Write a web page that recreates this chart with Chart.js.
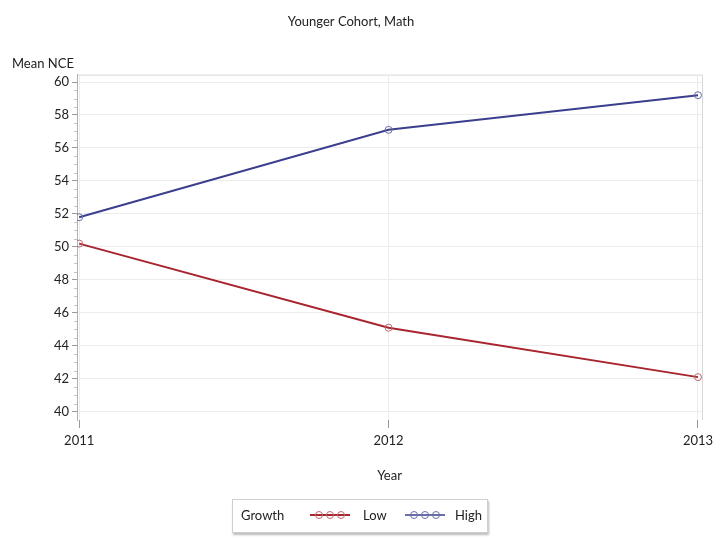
<!DOCTYPE html>
<html>
<head>
<meta charset="utf-8">
<script src="https://cdn.jsdelivr.net/npm/chart.js@4/dist/chart.umd.min.js"></script>
<style>
  body { margin: 0; background: #fff; font-family: Lato, "Open Sans", sans-serif; }
  #wrap { position: relative; width: 720px; height: 540px; }
  #ylabel { position: absolute; left: 12px; top: 55px; font-size: 13px; color: #222; }
  #legend { position: absolute; left: 232px; top: 499px; width: 254px; height: 32px;
            border: 1px solid #cfcfcf; box-shadow: 1px 2px 2px #bbb; background: #fff;
            font-size: 13px; color: #222; }
  #legend span { position: absolute; top: 7px; }
  #legend svg { position: absolute; top: 10px; }
</style>
</head>
<body>
<div id="wrap">
  <canvas id="chart" width="720" height="540"></canvas>
  <div id="ylabel">Mean NCE</div>
  <div id="legend"></div>
</div>
<script>
// Données du graphique
const years = [2011, 2012, 2013];
const lowValues = [50.2, 45.1, 42.1];
const highValues = [51.8, 57.1, 59.2];
const yTicks = [40, 42, 44, 46, 48, 50, 52, 54, 56, 58, 60];
const seriesNames = ['Low', 'High'];
const legendTitle = 'Growth';

const redColor = '#a8242f';
const blueColor = '#3b3f8e';

// Cadre gris clair + petites graduations
const framePlugin = {
    id: 'frame',
    beforeDraw(chart) {
        const { ctx, chartArea } = chart;
        ctx.save();
        ctx.strokeStyle = '#d8d8d8';
        ctx.lineWidth = 1;
        ctx.beginPath();
        ctx.moveTo(chartArea.left, chartArea.top + 0.5);
        ctx.lineTo(chartArea.right + 0.5, chartArea.top + 0.5);
        ctx.lineTo(chartArea.right + 0.5, chartArea.bottom);
        ctx.stroke();
        // minor ticks on y
        const y = chart.scales.y;
        ctx.strokeStyle = '#c4c4c4';
        ctx.beginPath();
        for (let i = 0; i < yTicks.length - 1; i++) {
            for (let k = 1; k < 4; k++) {
                const py = Math.round(y.getPixelForValue(yTicks[i] + k * 0.5)) + 0.5;
                ctx.moveTo(chartArea.left - 3, py);
                ctx.lineTo(chartArea.left, py);
            }
        }
        ctx.stroke();
        ctx.restore();
    }
};

document.addEventListener('DOMContentLoaded', () => {
    const ctx = document.getElementById('chart').getContext('2d');
    new Chart(ctx, {
        type: 'line',
        data: {
            datasets: [
                {
                    label: seriesNames[0],
                    data: years.map((yr, i) => ({ x: yr, y: lowValues[i] })),
                    borderColor: redColor,
                    borderWidth: 2,
                    pointRadius: 3.5,
                    pointBorderWidth: 1,
                    pointBorderColor: '#c06a70',
                    pointBackgroundColor: 'rgba(255,255,255,0)',
                    tension: 0
                },
                {
                    label: seriesNames[1],
                    data: years.map((yr, i) => ({ x: yr, y: highValues[i] })),
                    borderColor: blueColor,
                    borderWidth: 2,
                    pointRadius: 3.5,
                    pointBorderWidth: 1,
                    pointBorderColor: '#6a6ea8',
                    pointBackgroundColor: 'rgba(255,255,255,0)',
                    tension: 0
                }
            ]
        },
        options: {
            responsive: false,
            animation: false,
            layout: { padding: { left: 0, right: 18, bottom: 52 } },
            plugins: {
                legend: { display: false },
                tooltip: { enabled: false },
                title: {
                    display: true,
                    text: 'Younger Cohort, Math',
                    color: '#222',
                    font: { family: 'Lato', size: 13, weight: 'normal' },
                    padding: { top: 14, bottom: 45 }
                }
            },
            scales: {
                x: {
                    type: 'linear',
                    min: 2010.993,
                    max: 2013.013,
                    afterBuildTicks: s => { s.ticks = years.map(v => ({ value: v })); },
                    afterFit: s => { s.height = 68; },
                    grid: { color: '#ececec', tickColor: '#999', tickLength: 8, drawOnChartArea: true },
                    border: { display: false },
                    ticks: {
                        color: '#222',
                        font: { family: 'Lato', size: 13 },
                        padding: 5,
                        maxRotation: 0,
                        callback: v => String(v)
                    },
                    title: {
                        display: true,
                        text: 'Year',
                        color: '#222',
                        font: { family: 'Lato', size: 13 },
                        padding: { top: 22, bottom: 4 }
                    }
                },
                y: {
                    min: 39.5,
                    max: 60.45,
                    afterBuildTicks: s => { s.ticks = yTicks.map(v => ({ value: v })); },
                    afterFit: s => { s.width = 77; },
                    grid: { color: '#ececec', tickColor: '#999', tickLength: 5 },
                    border: { display: true, color: '#b0b0b0' },
                    ticks: {
                        color: '#222',
                        font: { family: 'Lato', size: 13 },
                        padding: 3
                    }
                }
            }
        },
        plugins: [framePlugin]
    });

    // Légende maison
    const legend = document.getElementById('legend');
    const sample = (color, ptColor, left) =>
        `<svg style="left:${left}px" width="40" height="10">
           <line x1="0" y1="5" x2="40" y2="5" stroke="${color}" stroke-width="2"/>
           <circle cx="9" cy="5" r="3.5" fill="none" stroke="${ptColor}"/>
           <circle cx="20" cy="5" r="3.5" fill="none" stroke="${ptColor}"/>
           <circle cx="31" cy="5" r="3.5" fill="none" stroke="${ptColor}"/>
         </svg>`;
    legend.innerHTML =
        `<span style="left:8px">${legendTitle}</span>` +
        sample(redColor, '#c06a70', 77) +
        `<span style="left:130px">${seriesNames[0]}</span>` +
        sample('#6a6ea8', '#6a6ea8', 172) +
        `<span style="left:222px">${seriesNames[1]}</span>`;
});
</script>
</body>
</html>
